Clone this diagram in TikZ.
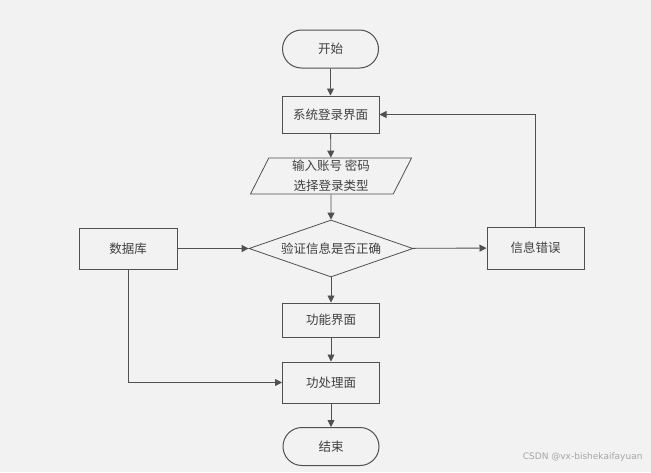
\documentclass[tikz,border=0pt]{standalone}
\usepackage{fontspec}
\newfontfamily\cjk{Noto Sans CJK SC}
\newfontfamily\wmfont{DejaVu Sans}
\usetikzlibrary{shapes.geometric,shapes.misc,arrows.meta}
\definecolor{bg}{HTML}{F2F2F2}
\definecolor{ln}{HTML}{505050}

\begin{document}
\begin{tikzpicture}[x=1pt, y=-1pt, font=\cjk\fontsize{12.5}{20}\selectfont, text=black!75,
  box/.style={draw=ln, line width=1pt, fill=bg, minimum width=97pt, minimum height=37pt, inner sep=0pt},
  term/.style={box, rounded rectangle, minimum width=96pt, minimum height=38pt},
  inp/.style={draw=ln, line width=0.8pt, fill=bg, trapezium, trapezium left angle=60,
    trapezium right angle=120, trapezium stretches body, minimum width=161pt,
    minimum height=36pt, inner sep=0pt, align=center},
  chk/.style={draw=ln, line width=0.8pt, fill=bg, diamond, shape aspect=2.9,
    minimum width=164pt, minimum height=57pt, inner sep=0pt},
  arr/.style={-{Triangle[length=7pt,width=7pt]}, draw=ln, line width=0.9pt}]
  % 背景
  \fill[bg] (0,0) rectangle (651,472);
  % 主流程
  \node[term] (start) at (330.5,49) {开始};
  \node[box] (login) at (330.5,114.5) {系统登录界面};
  \node[inp] (input) at (331,176) {输入账号 密码\\选择登录类型};
  \node[chk] (check) at (331,248.5) {验证信息是否正确};
  \node[box, minimum height=34pt] (func) at (331,320) {功能界面};
  \node[box, minimum height=41pt] (proc) at (331,382.5) {功处理面};
  \node[term] (stop) at (331,446.5) {结束};
  % 两侧
  \node[box, minimum width=98pt, minimum height=41pt] (db) at (128,248.5) {数据库};
  \node[box, minimum width=97pt, minimum height=42pt] (err) at (535.5,248) {信息错误};
  % 连线
  \draw[arr] (start) -- (login);
  \draw[arr] (login) -- (input);
  \draw[arr] (input) -- (check);
  \draw[arr] (check) -- (func);
  \draw[arr] (func) -- (proc);
  \draw[arr] (proc) -- (stop);
  \draw[arr] (db) -- (check);
  \draw[arr] (check) -- (err);
  \draw[arr] (err.north) |- (login.east);
  \draw[arr] (db.south) |- (proc.west);
  % 水印
  \node[font=\wmfont\fontsize{9}{11}\selectfont, text=black!35, anchor=east] (mark) at (646,457) {CSDN @vx-bishekaifayuan};
\end{tikzpicture}
\end{document}
